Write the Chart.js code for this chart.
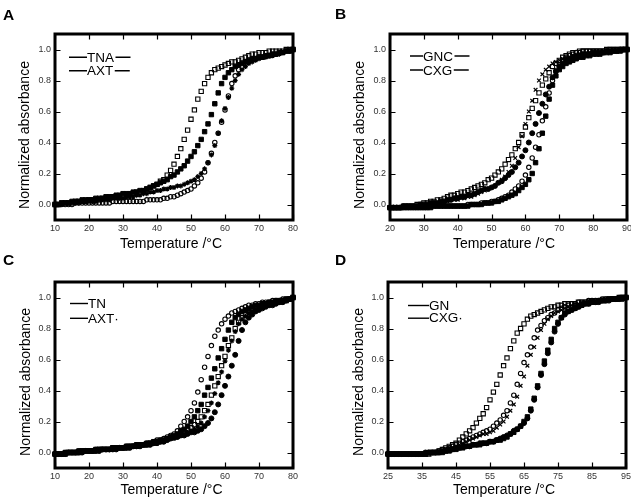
<!DOCTYPE html>
<html><head><meta charset="utf-8">
<script src="https://cdn.jsdelivr.net/npm/chart.js@4.4.1/dist/chart.umd.min.js"></script>
<style>
html,body{margin:0;padding:0;background:#fff;overflow:hidden;width:631px;height:501px;position:relative;}
canvas{position:absolute;}
</style></head><body>
<canvas id="cA" width="315" height="250" style="left:0px;top:0px"></canvas>
<canvas id="cB" width="320" height="250" style="left:315px;top:0px"></canvas>
<canvas id="cC" width="315" height="251" style="left:0px;top:250px"></canvas>
<canvas id="cD" width="320" height="251" style="left:315px;top:250px"></canvas>
<script>
// ---------------- DATA ----------------
const tempsA = [10,11,12,13,14,15,16,17,18,19,20,21,22,23,24,25,26,27,28,29,30,31,32,33,34,35,36,37,38,39,40,41,42,43,44,45,46,47,48,49,50,51,52,53,54,55,56,57,58,59,60,61,62,63,64,65,66,67,68,69,70,71,72,73,74,75,76,77,78,79,80];
const tempsB = [20,21,22,23,24,25,26,27,28,29,30,31,32,33,34,35,36,37,38,39,40,41,42,43,44,45,46,47,48,49,50,51,52,53,54,55,56,57,58,59,60,61,62,63,64,65,66,67,68,69,70,71,72,73,74,75,76,77,78,79,80,81,82,83,84,85,86,87,88,89,90];
const tempsC = [10,11,12,13,14,15,16,17,18,19,20,21,22,23,24,25,26,27,28,29,30,31,32,33,34,35,36,37,38,39,40,41,42,43,44,45,46,47,48,49,50,51,52,53,54,55,56,57,58,59,60,61,62,63,64,65,66,67,68,69,70,71,72,73,74,75,76,77,78,79,80];
const tempsD = [25,26,27,28,29,30,31,32,33,34,35,36,37,38,39,40,41,42,43,44,45,46,47,48,49,50,51,52,53,54,55,56,57,58,59,60,61,62,63,64,65,66,67,68,69,70,71,72,73,74,75,76,77,78,79,80,81,82,83,84,85,86,87,88,89,90,91,92,93,94,95];

// Panel A
const a1 = [0.00,0.00,0.01,0.01,0.01,0.01,0.02,0.02,0.02,0.02, 0.03,0.03,0.03,0.03,0.04,0.04,0.04,0.05,0.05,0.05, 0.06,0.06,0.07,0.07,0.08,0.08,0.09,0.10,0.11,0.12, 0.13,0.15,0.16,0.19,0.22,0.26,0.31,0.36,0.42,0.48, 0.55,0.61,0.68,0.73,0.78,0.82,0.85,0.87,0.88,0.89, 0.90,0.91,0.92,0.92,0.93,0.94,0.95,0.96,0.97,0.97, 0.98,0.98,0.98,0.99,0.99,0.99,0.99,0.99,1.00,1.00, 1.00];
const a2 = [0.00,0.00,0.01,0.01,0.01,0.02,0.02,0.02,0.03,0.03, 0.03,0.03,0.04,0.04,0.04,0.05,0.05,0.05,0.06,0.06, 0.07,0.07,0.07,0.08,0.08,0.09,0.09,0.10,0.11,0.12, 0.13,0.14,0.15,0.16,0.18,0.19,0.21,0.23,0.25,0.28, 0.31,0.34,0.38,0.42,0.47,0.52,0.58,0.65,0.72,0.78, 0.82,0.85,0.87,0.89,0.90,0.91,0.92,0.93,0.94,0.94, 0.95,0.95,0.96,0.96,0.97,0.97,0.98,0.98,0.99,0.99, 1.00];
const a3 = [0.00,0.00,0.00,0.00,0.00,0.00,0.01,0.01,0.01,0.01, 0.01,0.01,0.01,0.01,0.01,0.01,0.01,0.02,0.02,0.02, 0.02,0.02,0.02,0.02,0.02,0.02,0.02,0.03,0.03,0.03, 0.03,0.03,0.04,0.04,0.05,0.05,0.06,0.07,0.08,0.09, 0.10,0.12,0.14,0.17,0.21,0.27,0.33,0.40,0.46,0.53, 0.61,0.70,0.78,0.83,0.87,0.89,0.91,0.92,0.93,0.94, 0.95,0.95,0.96,0.96,0.97,0.97,0.98,0.98,0.99,0.99, 1.00];
const a4 = [0.00,0.00,0.00,0.01,0.01,0.01,0.01,0.01,0.02,0.02, 0.02,0.02,0.02,0.03,0.03,0.03,0.03,0.04,0.04,0.04, 0.04,0.05,0.05,0.05,0.06,0.06,0.07,0.07,0.08,0.08, 0.09,0.09,0.10,0.10,0.11,0.11,0.12,0.12,0.13,0.14, 0.15,0.16,0.18,0.20,0.23,0.27,0.32,0.38,0.46,0.54, 0.62,0.69,0.75,0.80,0.84,0.87,0.89,0.91,0.92,0.93, 0.94,0.95,0.95,0.96,0.96,0.97,0.97,0.98,0.99,0.99, 1.00];

// Panel B
const b1 = [-0.02,-0.02,-0.02,-0.02,-0.01,-0.01,-0.01,-0.01,0.00,0.00, 0.01,0.01,0.02,0.02,0.03,0.03,0.04,0.05,0.06,0.06, 0.07,0.08,0.08,0.09,0.10,0.11,0.12,0.13,0.14,0.16, 0.17,0.19,0.21,0.23,0.26,0.29,0.32,0.36,0.40,0.45, 0.50,0.56,0.62,0.67,0.72,0.77,0.81,0.85,0.89,0.91, 0.93,0.95,0.96,0.97,0.98,0.98,0.99,0.99,0.99,0.99, 0.99,0.99,0.99,0.99,1.00,1.00,1.00,1.00,1.00,1.00, 1.00];
const b2 = [-0.02,-0.02,-0.02,-0.02,-0.02,-0.01,-0.01,-0.01,-0.01,-0.01, 0.00,0.00,0.00,0.01,0.01,0.01,0.02,0.02,0.03,0.03, 0.03,0.04,0.04,0.05,0.05,0.06,0.07,0.08,0.09,0.10, 0.11,0.12,0.14,0.16,0.18,0.21,0.25,0.30,0.37,0.44, 0.52,0.60,0.67,0.74,0.80,0.84,0.87,0.89,0.91,0.92, 0.93,0.94,0.95,0.95,0.96,0.96,0.97,0.97,0.97,0.98, 0.98,0.98,0.98,0.99,0.99,0.99,0.99,0.99,1.00,1.00, 1.00];
const b3 = [-0.02,-0.02,-0.02,-0.02,-0.01,-0.01,-0.01,-0.01,-0.01,0.00, 0.00,0.00,0.01,0.01,0.01,0.02,0.02,0.03,0.03,0.04, 0.04,0.05,0.05,0.06,0.06,0.07,0.08,0.09,0.10,0.10, 0.11,0.12,0.14,0.15,0.17,0.19,0.21,0.24,0.27,0.31, 0.35,0.40,0.46,0.52,0.59,0.65,0.71,0.76,0.82,0.86, 0.89,0.91,0.93,0.94,0.95,0.96,0.96,0.97,0.97,0.97, 0.98,0.98,0.98,0.98,0.99,0.99,0.99,0.99,1.00,1.00, 1.00];
const b4 = [-0.02,-0.02,-0.02,-0.02,-0.02,-0.02,-0.02,-0.02,-0.02,-0.02, -0.02,-0.02,-0.01,-0.01,-0.01,-0.01,-0.01,-0.01,-0.01,-0.01, -0.01,-0.01,-0.01,0.00,0.00,0.00,0.00,0.01,0.01,0.01, 0.02,0.02,0.03,0.04,0.05,0.06,0.08,0.10,0.12,0.15, 0.19,0.24,0.30,0.37,0.45,0.54,0.63,0.72,0.80,0.86, 0.90,0.93,0.95,0.96,0.97,0.98,0.98,0.99,0.99,0.99, 0.99,0.99,0.99,0.99,0.99,1.00,1.00,1.00,1.00,1.00, 1.00];
const b5 = [-0.02,-0.02,-0.02,-0.02,-0.02,-0.02,-0.02,-0.02,-0.02,-0.02, -0.02,-0.02,-0.02,-0.01,-0.01,-0.01,-0.01,-0.01,-0.01,-0.01, -0.01,-0.01,-0.01,-0.01,0.00,0.00,0.00,0.00,0.01,0.01, 0.01,0.02,0.02,0.03,0.04,0.05,0.06,0.07,0.09,0.11, 0.13,0.16,0.20,0.27,0.36,0.46,0.57,0.68,0.77,0.83, 0.87,0.89,0.91,0.92,0.93,0.94,0.95,0.95,0.96,0.96, 0.97,0.97,0.97,0.98,0.98,0.98,0.99,0.99,0.99,1.00, 1.00];

// Panel C
const c1 = [-0.01,-0.01,-0.01,0.00,0.00,0.00,0.00,0.01,0.01,0.01, 0.01,0.01,0.02,0.02,0.02,0.02,0.02,0.03,0.03,0.03, 0.03,0.04,0.04,0.04,0.05,0.05,0.05,0.06,0.06,0.07, 0.08,0.08,0.09,0.10,0.11,0.12,0.14,0.17,0.20,0.23, 0.27,0.32,0.39,0.47,0.55,0.62,0.69,0.75,0.79,0.83, 0.86,0.88,0.90,0.91,0.92,0.93,0.94,0.95,0.95,0.96, 0.96,0.97,0.97,0.97,0.98,0.98,0.98,0.99,0.99,0.99, 1.00];
const c2 = [-0.01,-0.01,-0.01,0.00,0.00,0.00,0.00,0.01,0.01,0.01, 0.01,0.01,0.02,0.02,0.02,0.02,0.02,0.03,0.03,0.03, 0.03,0.04,0.04,0.04,0.05,0.05,0.05,0.06,0.06,0.07, 0.07,0.08,0.08,0.09,0.10,0.11,0.12,0.14,0.15,0.17, 0.20,0.23,0.27,0.31,0.37,0.42,0.48,0.54,0.61,0.67, 0.73,0.79,0.84,0.87,0.89,0.91,0.92,0.93,0.94,0.95, 0.95,0.96,0.96,0.97,0.97,0.98,0.98,0.98,0.99,0.99, 1.00];
const c3 = [-0.01,-0.01,-0.01,-0.01,0.00,0.00,0.00,0.00,0.01,0.01, 0.01,0.01,0.01,0.02,0.02,0.02,0.02,0.03,0.03,0.03, 0.03,0.03,0.04,0.04,0.04,0.05,0.05,0.05,0.06,0.06, 0.07,0.07,0.08,0.09,0.10,0.10,0.11,0.12,0.13,0.15, 0.16,0.18,0.20,0.23,0.27,0.31,0.37,0.43,0.49,0.56, 0.62,0.69,0.74,0.80,0.84,0.87,0.89,0.91,0.92,0.93, 0.94,0.95,0.95,0.96,0.96,0.97,0.97,0.98,0.98,0.99, 1.00];
const c4 = [-0.01,-0.01,-0.01,-0.01,0.00,0.00,0.00,0.00,0.00,0.01, 0.01,0.01,0.01,0.01,0.02,0.02,0.02,0.02,0.03,0.03, 0.03,0.03,0.03,0.04,0.04,0.04,0.05,0.05,0.05,0.06, 0.06,0.07,0.07,0.08,0.09,0.09,0.10,0.11,0.12,0.13, 0.14,0.15,0.17,0.19,0.23,0.27,0.32,0.38,0.45,0.52, 0.59,0.66,0.72,0.78,0.83,0.86,0.88,0.90,0.91,0.92, 0.93,0.94,0.95,0.95,0.96,0.96,0.97,0.97,0.98,0.99, 1.00];
const c5 = [-0.01,-0.01,-0.01,-0.01,0.00,0.00,0.00,0.00,0.00,0.01, 0.01,0.01,0.01,0.01,0.02,0.02,0.02,0.02,0.02,0.03, 0.03,0.03,0.03,0.04,0.04,0.04,0.05,0.05,0.05,0.06, 0.06,0.07,0.07,0.08,0.09,0.10,0.10,0.11,0.11,0.12, 0.13,0.13,0.14,0.15,0.17,0.19,0.22,0.26,0.31,0.37, 0.43,0.49,0.56,0.63,0.72,0.79,0.84,0.87,0.89,0.91, 0.92,0.93,0.94,0.95,0.95,0.96,0.97,0.97,0.98,0.99, 1.00];

// Panel D
const d1 = [-0.01,-0.01,-0.01,-0.01,-0.01,-0.01,-0.01,-0.01,-0.01,-0.01, -0.01,-0.01,-0.01,0.00,0.00,0.01,0.02,0.03,0.04,0.05, 0.06,0.08,0.10,0.12,0.14,0.16,0.19,0.22,0.25,0.29, 0.34,0.39,0.44,0.50,0.56,0.61,0.67,0.72,0.77,0.80, 0.83,0.86,0.88,0.89,0.90,0.91,0.92,0.93,0.94,0.94, 0.95,0.95,0.96,0.96,0.96,0.96,0.97,0.97,0.97,0.97, 0.98,0.98,0.98,0.98,0.99,0.99,0.99,0.99,1.00,1.00, 1.00];
const d2 = [-0.01,-0.01,-0.01,-0.01,-0.01,-0.01,-0.01,-0.01,-0.01,-0.01, -0.01,-0.01,0.00,0.00,0.00,0.01,0.02,0.02,0.03,0.04, 0.05,0.06,0.07,0.08,0.09,0.10,0.11,0.12,0.13,0.14, 0.15,0.17,0.19,0.21,0.24,0.27,0.32,0.37,0.44,0.51, 0.58,0.63,0.68,0.74,0.79,0.82,0.85,0.87,0.89,0.90, 0.92,0.93,0.94,0.95,0.96,0.96,0.97,0.97,0.97,0.98, 0.98,0.98,0.98,0.99,0.99,0.99,0.99,0.99,1.00,1.00, 1.00];
const d3 = [-0.01,-0.01,-0.01,-0.01,-0.01,-0.01,-0.01,-0.01,-0.01,-0.01, -0.01,-0.01,-0.01,0.00,0.00,0.01,0.01,0.02,0.03,0.03, 0.04,0.05,0.06,0.07,0.08,0.09,0.10,0.11,0.12,0.12, 0.13,0.14,0.16,0.18,0.20,0.23,0.27,0.31,0.36,0.43, 0.49,0.56,0.63,0.68,0.74,0.79,0.83,0.86,0.88,0.90, 0.91,0.92,0.93,0.94,0.95,0.96,0.96,0.97,0.97,0.98, 0.98,0.98,0.98,0.99,0.99,0.99,0.99,0.99,1.00,1.00, 1.00];
const d4 = [-0.01,-0.01,-0.01,-0.01,-0.01,-0.01,-0.01,-0.01,-0.01,-0.01, -0.01,0.00,0.00,0.00,0.00,0.00,0.01,0.01,0.02,0.02, 0.03,0.03,0.04,0.04,0.04,0.05,0.05,0.06,0.06,0.06, 0.07,0.07,0.08,0.09,0.10,0.11,0.12,0.14,0.15,0.17, 0.19,0.22,0.27,0.34,0.42,0.50,0.57,0.64,0.71,0.78, 0.83,0.87,0.89,0.91,0.92,0.93,0.94,0.95,0.96,0.96, 0.97,0.97,0.97,0.98,0.98,0.98,0.99,0.99,0.99,0.99, 1.00];
const d5 = [-0.01,-0.01,-0.01,-0.01,-0.01,-0.01,-0.01,-0.01,-0.01,-0.01, -0.01,-0.01,0.00,0.00,0.00,0.00,0.00,0.01,0.01,0.02, 0.02,0.03,0.03,0.04,0.04,0.05,0.05,0.05,0.06,0.06, 0.07,0.07,0.08,0.08,0.09,0.10,0.12,0.13,0.15,0.17, 0.20,0.23,0.28,0.35,0.43,0.51,0.59,0.66,0.73,0.80, 0.84,0.87,0.90,0.91,0.92,0.93,0.94,0.95,0.96,0.96, 0.97,0.97,0.98,0.98,0.98,0.99,0.99,0.99,0.99,1.00, 1.00];

// Tick labels / texts
const yTicks = [0, 0.2, 0.4, 0.6, 0.8, 1.0];
const xTicksA = [10,20,30,40,50,60,70,80];
const xTicksB = [20,30,40,50,60,70,80,90];
const xTicksC = [10,20,30,40,50,60,70,80];
const xTicksD = [25,35,45,55,65,75,85,95];
const legendA = ['TNA','AXT'];
const legendB = ['GNC','CXG'];
const legendC = ['TN','AXT·'];
const legendD = ['GN','CXG·'];
const panelLetters = ['A','B','C','D'];
const xTitleText = 'Temperature /°C';
const yTitleText = 'Normalized absorbance';

// ---------------- STYLES / LAYOUT ----------------
const FONT = '"Liberation Sans", Arial, Helvetica, sans-serif';
const STY = {
  openSq: {pointStyle:'rect', pointRadius:3.0, pointBackgroundColor:'rgba(0,0,0,0)', pointBorderColor:'#000', pointBorderWidth:1.1},
  fillSq: {pointStyle:'rect', pointRadius:3.1, pointBackgroundColor:'#000', pointBorderColor:'#000', pointBorderWidth:1},
  openCi: {pointStyle:'circle', pointRadius:2.2, pointBackgroundColor:'rgba(0,0,0,0)', pointBorderColor:'#000', pointBorderWidth:1.1},
  fillCi: {pointStyle:'circle', pointRadius:2.5, pointBackgroundColor:'#000', pointBorderColor:'#000', pointBorderWidth:1},
  star:   {pointStyle:'star', pointRadius:2.5, pointBackgroundColor:'#000', pointBorderColor:'#000', pointBorderWidth:1.2},
  cross:  {pointStyle:'crossRot', pointRadius:2.6, pointBackgroundColor:'#000', pointBorderColor:'#000', pointBorderWidth:1.2}
};

const panels = [
  { id:'cA', w:315, h:250, area:{l:55,t:34,r:293,b:220}, xmin:10, xmax:80, temps:tempsA, xTicks:xTicksA,
    series:[[a1,'openSq'],[a2,'fillSq'],[a3,'openCi'],[a4,'star']],
    letter:[3,19.5], yTitle:[29.3,135], xTitle:[171,247.5],
    legend:legendA, leg:{x:87, lines:[69,87], rows:[[61.7,57.3],[75,70.7]], right:true} },
  { id:'cB', w:320, h:250, area:{l:75,t:34,r:312,b:220}, xmin:20, xmax:90, temps:tempsB, xTicks:xTicksB,
    series:[[b1,'openSq'],[b2,'cross'],[b3,'fillCi'],[b4,'openCi'],[b5,'fillSq']],
    letter:[20,18.5], yTitle:[48.5,135], xTitle:[189,247.5],
    legend:legendB, leg:{x:108, lines:[95,108], rows:[[60.5,56],[74.5,70]], right:true} },
  { id:'cC', w:315, h:251, area:{l:55,t:32,r:293,b:218}, xmin:10, xmax:80, temps:tempsC, xTicks:xTicksC,
    series:[[c1,'openCi'],[c2,'fillSq'],[c3,'openSq'],[c4,'star'],[c5,'fillCi']],
    letter:[3,15], yTitle:[30,132], xTitle:[171.5,244],
    legend:legendC, leg:{x:88, lines:[70,88], rows:[[57.8,53.5],[72.7,68.3]], right:false} },
  { id:'cD', w:320, h:251, area:{l:73,t:32,r:311,b:218}, xmin:25, xmax:95, temps:tempsD, xTicks:xTicksD,
    series:[[d1,'openSq'],[d2,'openCi'],[d3,'cross'],[d4,'fillCi'],[d5,'fillSq']],
    letter:[20,15], yTitle:[48.3,132], xTitle:[189,244],
    legend:legendD, leg:{x:114, lines:[93,114], rows:[[60.3,55.5],[72.3,68.2]], right:false} }
];

const deco = {
  id:'deco',
  afterDraw(chart) {
    const p = chart.options.plugins.deco;
    const ctx = chart.ctx, ca = chart.chartArea;
    const xs = chart.scales.x, ys = chart.scales.y;
    ctx.save();
    // inward ticks on all four sides
    ctx.strokeStyle = '#000'; ctx.lineWidth = 1.2;
    ctx.beginPath();
    p.xTicks.forEach(v => {
      const px = Math.round(xs.getPixelForValue(v)) + 0.5;
      ctx.moveTo(px, ca.bottom); ctx.lineTo(px, ca.bottom - 5.5);
      ctx.moveTo(px, ca.top); ctx.lineTo(px, ca.top + 5.5);
    });
    yTicks.forEach(v => {
      const py = Math.round(ys.getPixelForValue(v)) + 0.5;
      ctx.moveTo(ca.left, py); ctx.lineTo(ca.left + 5.5, py);
      ctx.moveTo(ca.right, py); ctx.lineTo(ca.right - 5.5, py);
    });
    ctx.stroke();
    // frame
    ctx.lineWidth = 3;
    ctx.strokeRect(ca.left, ca.top, ca.right - ca.left, ca.bottom - ca.top);
    // legend
    ctx.fillStyle = '#000';
    ctx.font = '13.5px ' + FONT;
    ctx.textAlign = 'left'; ctx.textBaseline = 'alphabetic';
    ctx.lineWidth = 1.4;
    p.legend.forEach((txt, i) => {
      const [base, ly] = p.leg.rows[i];
      ctx.fillText(txt, p.leg.x, base);
      ctx.beginPath();
      ctx.moveTo(p.leg.lines[0], ly); ctx.lineTo(p.leg.lines[1], ly);
      if (p.leg.right) {
        const wTxt = ctx.measureText(txt).width;
        ctx.moveTo(p.leg.x + wTxt + 1.5, ly); ctx.lineTo(p.leg.x + wTxt + 16.5, ly);
      }
      ctx.stroke();
    });
    // panel letter
    ctx.font = 'bold 15.5px ' + FONT;
    ctx.fillText(p.letter, p.letterPos[0], p.letterPos[1]);
    // axis titles
    ctx.font = '14px ' + FONT;
    ctx.textAlign = 'center';
    ctx.fillText(xTitleText, p.xTitle[0], p.xTitle[1]);
    ctx.save();
    ctx.translate(p.yTitle[0], p.yTitle[1]);
    ctx.rotate(-Math.PI / 2);
    ctx.fillText(yTitleText, 0, 0);
    ctx.restore();
    ctx.restore();
  }
};

panels.forEach((pn, idx) => {
  const datasets = pn.series.map(([vals, sty]) => Object.assign({
    data: pn.temps.map((t, j) => ({x: t, y: vals[j]})),
    showLine: false,
    clip: false
  }, STY[sty]));
  new Chart(document.getElementById(pn.id), {
    type: 'scatter',
    data: { datasets },
    plugins: [deco],
    options: {
      responsive: false,
      animation: false,
      events: [],
      layout: { padding: { left: 0, top: pn.area.t, right: pn.w - pn.area.r, bottom: 0 } },
      plugins: {
        legend: { display: false },
        tooltip: { enabled: false },
        deco: { xTicks: pn.xTicks, legend: pn.legend, leg: pn.leg, letter: panelLetters[idx],
                letterPos: pn.letter, xTitle: pn.xTitle, yTitle: pn.yTitle }
      },
      scales: {
        x: {
          type: 'linear', min: pn.xmin, max: pn.xmax,
          grid: { display: false, drawTicks: false },
          border: { display: false },
          afterFit: s => { s.height = pn.h - pn.area.b; },
          afterBuildTicks: s => { s.ticks = pn.xTicks.map(v => ({value: v})); },
          ticks: { autoSkip: false, maxRotation: 0, padding: 3, color: '#333',
                   font: { family: FONT, size: 9 }, callback: v => String(v) }
        },
        y: {
          type: 'linear', min: -0.1, max: 1.1,
          grid: { display: false, drawTicks: false },
          border: { display: false },
          afterFit: s => { s.width = pn.area.l; },
          afterBuildTicks: s => { s.ticks = yTicks.map(v => ({value: v})); },
          ticks: { autoSkip: false, padding: 4, color: '#333',
                   font: { family: FONT, size: 9 }, callback: v => Number(v).toFixed(1) }
        }
      }
    }
  });
});
</script>
</body></html>
